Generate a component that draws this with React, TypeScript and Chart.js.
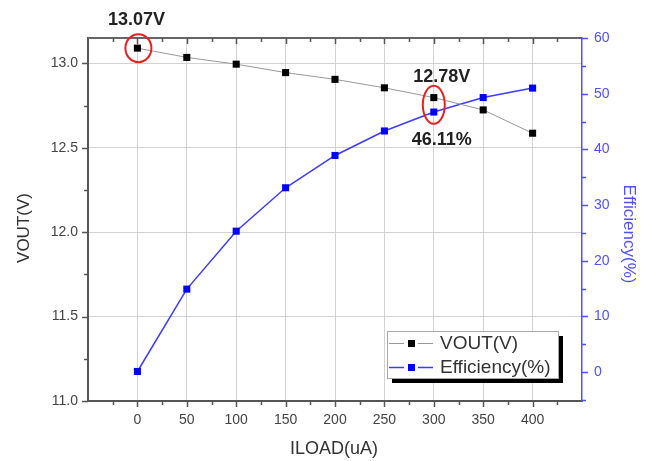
import React, { useEffect, useRef } from "react";
import { Chart, registerables } from "chart.js";

Chart.register(...registerables);

// ---- data ----
const iload = [0, 50, 100, 150, 200, 250, 300, 350, 400];
const vout = [13.09, 13.035, 12.995, 12.945, 12.905, 12.855, 12.797, 12.724, 12.586];
const efficiency = [0.1, 14.9, 25.3, 33.1, 38.9, 43.3, 46.7, 49.3, 51.0];

const xTicks = [0, 50, 100, 150, 200, 250, 300, 350, 400];
const xMinorTicks = [-25, 25, 75, 125, 175, 225, 275, 325, 375, 425];
const voutTicks = [11.0, 11.5, 12.0, 12.5, 13.0];
const voutMinorTicks = [11.25, 11.75, 12.25, 12.75];
const effTicks = [0, 10, 20, 30, 40, 50, 60];
const effMinorTicks = [-5, 5, 15, 25, 35, 45, 55];

const labelVoutStart = "13.07V";
const labelVoutMark = "12.78V";
const labelEffMark = "46.11%";
const markIndex = 6;

const FONT = "'Liberation Sans', Arial, sans-serif";
const BLUE_AXIS = "#5050ff";

const decorPlugin = {
  id: "decor",
  afterDraw(chart: any) {
    const ctx: CanvasRenderingContext2D = chart.ctx;
    const { left, right, top, bottom } = chart.chartArea;
    const xs = chart.scales.x;
    const ys = chart.scales.y;
    const y1 = chart.scales.y1;
    ctx.save();

    // top frame
    ctx.strokeStyle = "#666";
    ctx.lineWidth = 2;
    ctx.beginPath();
    ctx.moveTo(left, top);
    ctx.lineTo(right, top);
    ctx.stroke();

    const seg = (x1: number, y1_: number, x2: number, y2: number) => {
      ctx.beginPath();
      ctx.moveTo(x1, y1_);
      ctx.lineTo(x2, y2);
      ctx.stroke();
    };

    // x ticks (bottom outward, top inward)
    ctx.strokeStyle = "#555";
    ctx.lineWidth = 1.5;
    xTicks.forEach((v) => {
      const px = Math.round(xs.getPixelForValue(v)) + 0.5;
      seg(px, bottom, px, bottom + 6);
      seg(px, top, px, top + 6);
    });
    xMinorTicks.forEach((v) => {
      const px = Math.round(xs.getPixelForValue(v)) + 0.5;
      seg(px, bottom, px, bottom + 4);
      seg(px, top, px, top + 4);
    });
    // left ticks
    voutTicks.forEach((v) => {
      const py = Math.round(ys.getPixelForValue(v)) + 0.5;
      seg(left - 6, py, left, py);
    });
    voutMinorTicks.forEach((v) => {
      const py = Math.round(ys.getPixelForValue(v)) + 0.5;
      seg(left - 4, py, left, py);
    });
    // right ticks
    ctx.strokeStyle = BLUE_AXIS;
    effTicks.forEach((v) => {
      const py = Math.round(y1.getPixelForValue(v)) + 0.5;
      seg(right, py, right + 6, py);
    });
    effMinorTicks.forEach((v) => {
      const py = Math.round(y1.getPixelForValue(v)) + 0.5;
      seg(right, py, right + 4, py);
    });

    // axis titles
    ctx.textAlign = "center";
    ctx.textBaseline = "middle";
    ctx.fillStyle = "#333";
    ctx.font = `17px ${FONT}`;
    ctx.save();
    ctx.translate(24, 228);
    ctx.rotate(-Math.PI / 2);
    ctx.fillText("VOUT(V)", 0, 0);
    ctx.restore();

    ctx.fillStyle = BLUE_AXIS;
    ctx.font = `17px ${FONT}`;
    ctx.save();
    ctx.translate(629, 234);
    ctx.rotate(Math.PI / 2);
    ctx.fillText("Efficiency(%)", 0, 0);
    ctx.restore();

    ctx.fillStyle = "#333";
    ctx.font = `18px ${FONT}`;
    ctx.fillText("ILOAD(uA)", (left + right) / 2 - 1, 449);

    // annotations
    const p0 = chart.getDatasetMeta(0).data[0];
    const pv = chart.getDatasetMeta(0).data[markIndex];
    const pe = chart.getDatasetMeta(1).data[markIndex];
    ctx.strokeStyle = "#e82020";
    ctx.lineWidth = 2;
    ctx.beginPath();
    ctx.ellipse(p0.x + 1, p0.y, 13, 14, 0, 0, Math.PI * 2);
    ctx.stroke();
    ctx.beginPath();
    ctx.ellipse(pv.x, (pv.y + pe.y) / 2, 11, 19, 0, 0, Math.PI * 2);
    ctx.stroke();

    ctx.fillStyle = "#222";
    ctx.font = `bold 18px ${FONT}`;
    ctx.fillText(labelVoutStart, p0.x - 1, p0.y - 28);
    ctx.fillText(labelVoutMark, pv.x + 8, pv.y - 21);
    ctx.fillText(labelEffMark, pe.x + 8, pe.y + 28);

    // legend
    const lx = 387, ly = 331, lw = 171, lh = 47;
    ctx.fillStyle = "#000";
    ctx.fillRect(lx + 5, ly + 5, lw, lh);
    ctx.fillStyle = "#fff";
    ctx.fillRect(lx, ly, lw, lh);
    ctx.strokeStyle = "#aaa";
    ctx.lineWidth = 1;
    ctx.strokeRect(lx + 0.5, ly + 0.5, lw, lh);
    const rows = [343, 367];
    chart.data.datasets.forEach((ds: any, i: number) => {
      const ry = rows[i] + 0.5;
      ctx.strokeStyle = ds.borderColor;
      ctx.lineWidth = ds.borderWidth;
      seg(389, ry, 404, ry);
      seg(418, ry, 433, ry);
      ctx.fillStyle = ds.pointBackgroundColor;
      ctx.fillRect(408, rows[i] - 3, 7, 7);
      ctx.fillStyle = "#333";
      ctx.font = `19px ${FONT}`;
      ctx.textAlign = "left";
      ctx.fillText(ds.label, 440, rows[i] + 1);
    });

    ctx.restore();
  },
};

export default function App() {
  const ref = useRef<HTMLCanvasElement | null>(null);

  useEffect(() => {
    if (!ref.current) return;
    Chart.defaults.font.family = FONT;
    const chart = new Chart(ref.current, {
      type: "line",
      data: {
        datasets: [
          {
            label: "VOUT(V)",
            data: iload.map((x, i) => ({ x, y: vout[i] })),
            yAxisID: "y",
            borderColor: "#999999",
            borderWidth: 1,
            pointStyle: "rect",
            pointRadius: 5,
            pointBackgroundColor: "#000000",
            pointBorderColor: "#000000",
            pointBorderWidth: 0,
          },
          {
            label: "Efficiency(%)",
            data: iload.map((x, i) => ({ x, y: efficiency[i] })),
            yAxisID: "y1",
            borderColor: "#3c3cff",
            borderWidth: 1.5,
            pointStyle: "rect",
            pointRadius: 5,
            pointBackgroundColor: "#0000ff",
            pointBorderColor: "#0000ff",
            pointBorderWidth: 0,
          },
        ],
      },
      options: {
        responsive: false,
        animation: false,
        devicePixelRatio: 1,
        layout: { padding: { top: 38, left: 0, right: 0, bottom: 0 }, autoPadding: false },
        plugins: { legend: { display: false }, tooltip: { enabled: false } },
        scales: {
          x: {
            type: "linear",
            min: -50,
            max: 450,
            afterBuildTicks: (s: any) => {
              s.ticks = xTicks.map((v) => ({ value: v }));
            },
            afterFit: (s: any) => {
              s.height = 60;
            },
            grid: { color: "#d2d2d2", drawTicks: false },
            border: { display: true, color: "#555", width: 2 },
            ticks: { color: "#444", font: { size: 14 }, padding: 11, maxRotation: 0, callback: (v: any) => String(v) },
          },
          y: {
            type: "linear",
            position: "left",
            min: 11.0,
            max: 13.15,
            afterBuildTicks: (s: any) => {
              s.ticks = voutTicks.map((v) => ({ value: v }));
            },
            afterFit: (s: any) => {
              s.width = 88;
            },
            grid: { color: "#d2d2d2", drawTicks: false },
            border: { display: true, color: "#555", width: 2 },
            ticks: { color: "#444", font: { size: 14 }, padding: 10, callback: (v: any) => Number(v).toFixed(1) },
          },
          y1: {
            type: "linear",
            position: "right",
            min: -5.2,
            max: 60,
            afterBuildTicks: (s: any) => {
              s.ticks = effTicks.map((v) => ({ value: v }));
            },
            afterFit: (s: any) => {
              s.width = 69;
            },
            grid: { display: false, drawTicks: false },
            border: { display: true, color: BLUE_AXIS, width: 1.5 },
            ticks: { color: BLUE_AXIS, font: { size: 14 }, padding: 12, callback: (v: any) => String(v) },
          },
        },
      },
      plugins: [decorPlugin],
    } as any);
    return () => chart.destroy();
  }, []);

  return (
    <div style={{ position: "fixed", left: 0, top: 0, width: 651, height: 461, background: "#fff" }}>
      <canvas ref={ref} width={651} height={461} style={{ width: 651, height: 461, display: "block" }} />
    </div>
  );
}
